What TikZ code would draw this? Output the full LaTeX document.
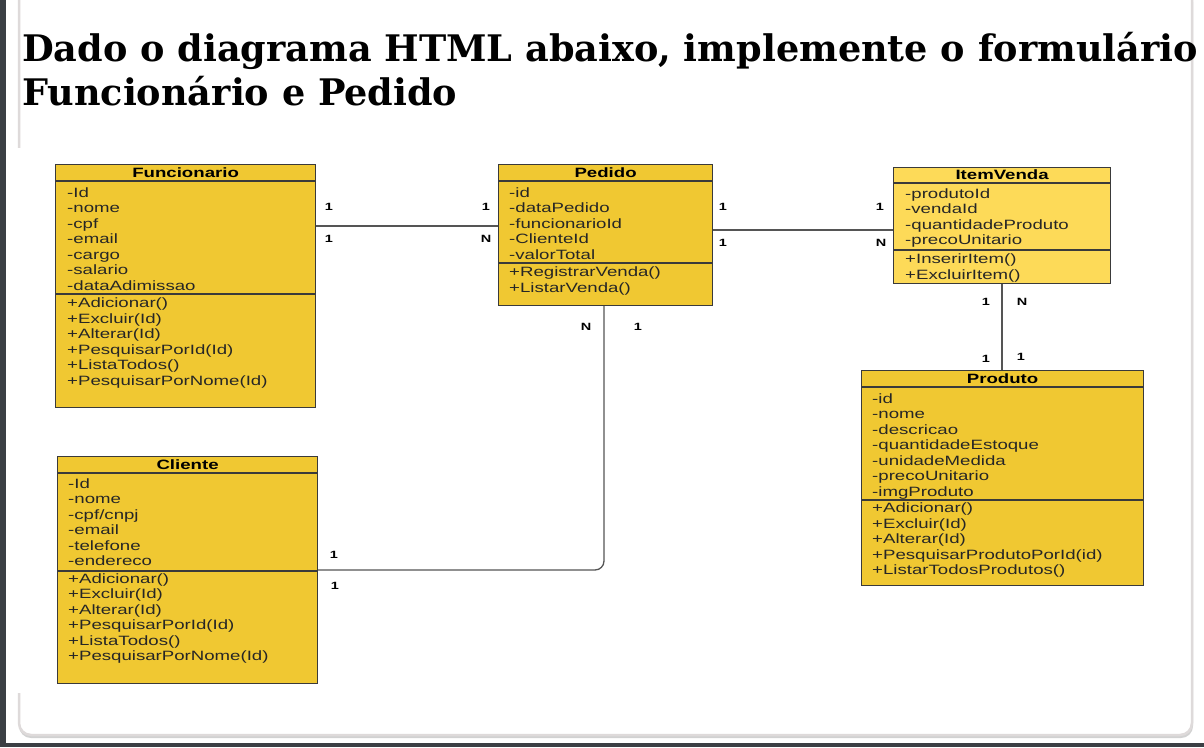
\documentclass[tikz,border=0pt]{standalone}
\usepackage{fontspec}
\setmainfont{DejaVu Serif}
\newfontfamily\umlfont{Liberation Sans}
\usetikzlibrary{positioning}

\definecolor{frame}{HTML}{3B3F44}
\definecolor{cardline}{HTML}{DEDADA}
\definecolor{classfill}{HTML}{F0C832}
\definecolor{itemfill}{HTML}{FDDA58}
\definecolor{boxline}{HTML}{3A3A3A}
\definecolor{connline}{HTML}{555555}

\newcommand{\wide}[1]{\scalebox{1.38}[1]{#1}}

\begin{document}
\begin{tikzpicture}[x=1pt,y=-1pt,
            classbox/.style={draw=boxline,line width=1.2pt,fill=classfill,anchor=north west,inner sep=0},
            header/.style={font=\umlfont\fontsize{13.5}{15.5}\selectfont\bfseries,inner sep=0},
            member/.style={font=\umlfont\fontsize{13.5}{15.5}\selectfont,anchor=base west,inner sep=0,text=black!85},
            sep/.style={draw=boxline,line width=1.2pt},
            conn/.style={draw=connline,line width=1.3pt},
            mult/.style={font=\umlfont\fontsize{10.5}{11}\selectfont\bfseries,inner sep=0},
            titletext/.style={font=\fontsize{36.6}{40}\selectfont\bfseries,anchor=base west,inner sep=0}
          ]
          \useasboundingbox (0,0) rectangle (1204,747);

          %page and card
          \fill[frame] (0,0) rectangle (1204,747);
          \fill[white] (6,0) rectangle (1204,743);
          \fill[black!18,rounded corners=12] (19,-10) -- (19,738) -- (1193,738) -- (1193,-10) -- cycle;
          \draw[cardline,fill=white,line width=2.5pt,rounded corners=12] (19,-10) -- (19,735) -- (1192,735) -- (1192,-10);
          \fill[white] (16,148) rectangle (1180,693);

          %title
          \node[titletext] (title1) at (22,61) {Dado o diagrama HTML abaixo, implemente o formulário};
          \node[titletext] (title2) at (22,105) {Funcionário e Pedido};

          %funcionario
          \node[classbox,minimum width=260,minimum height=243] (func) at (55,164) {};
          \node[header] (func-h) at ([yshift=-8.5]func.north) {\wide{Funcionario}};
          \draw[sep] ([yshift=-17]func.north west) -- ([yshift=-17]func.north east);
          \draw[sep] ([yshift=-130]func.north west) -- ([yshift=-130]func.north east);
          \foreach \m [count=\i from 0] in {-Id,-nome,-cpf,-email,-cargo,-salario,-dataAdimissao}
            \node[member] (func-a\i) at (67,{197+15.5*\i}) {\wide{\m}};
          \foreach \m [count=\i from 0] in {+Adicionar(),+Excluir(Id),+Alterar(Id),+PesquisarPorId(Id),+ListaTodos(),+PesquisarPorNome(Id)}
            \node[member] (func-m\i) at (67,{307.5+15.5*\i}) {\wide{\m}};

          %pedido
          \node[classbox,minimum width=214,minimum height=141] (ped) at (498,164) {};
          \node[header] (ped-h) at ([yshift=-8.5]ped.north) {\wide{Pedido}};
          \draw[sep] ([yshift=-17]ped.north west) -- ([yshift=-17]ped.north east);
          \draw[sep] ([yshift=-99]ped.north west) -- ([yshift=-99]ped.north east);
          \foreach \m [count=\i from 0] in {-id,-dataPedido,-funcionarioId,-ClienteId,-valorTotal}
            \node[member] (ped-a\i) at (509,{197+15.5*\i}) {\wide{\m}};
          \foreach \m [count=\i from 0] in {+RegistrarVenda(),+ListarVenda()}
            \node[member] (ped-m\i) at (509,{276.5+15.5*\i}) {\wide{\m}};

          %itemvenda
          \node[classbox,fill=itemfill,minimum width=217,minimum height=116] (item) at (893,167) {};
          \node[header] (item-h) at ([yshift=-8]item.north) {\wide{ItemVenda}};
          \draw[sep] ([yshift=-16]item.north west) -- ([yshift=-16]item.north east);
          \draw[sep] ([yshift=-83]item.north west) -- ([yshift=-83]item.north east);
          \foreach \m [count=\i from 0] in {-produtoId,-vendaId,-quantidadeProduto,-precoUnitario}
            \node[member] (item-a\i) at (905,{198+15.5*\i}) {\wide{\m}};
          \foreach \m [count=\i from 0] in {+InserirItem(),+ExcluirItem()}
            \node[member] (item-m\i) at (905,{263.5+15.5*\i}) {\wide{\m}};

          %produto
          \node[classbox,minimum width=282,minimum height=215] (prod) at (861,370) {};
          \node[header] (prod-h) at ([yshift=-8.5]prod.north) {\wide{Produto}};
          \draw[sep] ([yshift=-17]prod.north west) -- ([yshift=-17]prod.north east);
          \draw[sep] ([yshift=-130]prod.north west) -- ([yshift=-130]prod.north east);
          \foreach \m [count=\i from 0] in {-id,-nome,-descricao,-quantidadeEstoque,-unidadeMedida,-precoUnitario,-imgProduto}
            \node[member] (prod-a\i) at (872,{403+15.5*\i}) {\wide{\m}};
          \foreach \m [count=\i from 0] in {+Adicionar(),+Excluir(Id),+Alterar(Id),+PesquisarProdutoPorId(id),+ListarTodosProdutos()}
            \node[member] (prod-m\i) at (872,{512.5+15.5*\i}) {\wide{\m}};

          %cliente
          \node[classbox,minimum width=260,minimum height=227] (cli) at (57,456) {};
          \node[header] (cli-h) at ([yshift=-8.5]cli.north) {\wide{Cliente}};
          \draw[sep] ([yshift=-17]cli.north west) -- ([yshift=-17]cli.north east);
          \draw[sep] ([yshift=-115]cli.north west) -- ([yshift=-115]cli.north east);
          \foreach \m [count=\i from 0] in {-Id,-nome,-cpf/cnpj,-email,-telefone,-endereco}
            \node[member] (cli-a\i) at (68,{488+15.5*\i}) {\wide{\m}};
          \foreach \m [count=\i from 0] in {+Adicionar(),+Excluir(Id),+Alterar(Id),+PesquisarPorId(Id),+ListaTodos(),+PesquisarPorNome(Id)}
            \node[member] (cli-m\i) at (68,{583+15.5*\i}) {\wide{\m}};

          %associations
          \path[conn]
          ([yshift=-62]func.north east) edge ([yshift=-62]ped.north west)
          ([yshift=-66]ped.north east) edge ([yshift=-63]item.north west)
          ([xshift=109]item.south west) edge ([xshift=141]prod.north west)
          ;
          \draw[conn,rounded corners=9] ([xshift=106]ped.south west) |- ([yshift=-114]cli.north east);

          %multiplicities
          \node[mult] (fp1) at (329,207) {\wide{1}};
          \node[mult] (fp2) at (329,239) {\wide{1}};
          \node[mult] (fp3) at (486,207) {\wide{1}};
          \node[mult] (fp4) at (486,239) {\wide{N}};
          \node[mult] (pi1) at (723,207) {\wide{1}};
          \node[mult] (pi2) at (723,243) {\wide{1}};
          \node[mult] (pi3) at (880,207) {\wide{1}};
          \node[mult] (pi4) at (881,243) {\wide{N}};
          \node[mult] (pc1) at (586,327) {\wide{N}};
          \node[mult] (pc2) at (638,327) {\wide{1}};
          \node[mult] (pc3) at (334,555) {\wide{1}};
          \node[mult] (pc4) at (335,586) {\wide{1}};
          \node[mult] (ip1) at (986,302) {\wide{1}};
          \node[mult] (ip2) at (1022,302) {\wide{N}};
          \node[mult] (ip3) at (986,359) {\wide{1}};
          \node[mult] (ip4) at (1021,357) {\wide{1}};

      \end{tikzpicture}
\end{document}
